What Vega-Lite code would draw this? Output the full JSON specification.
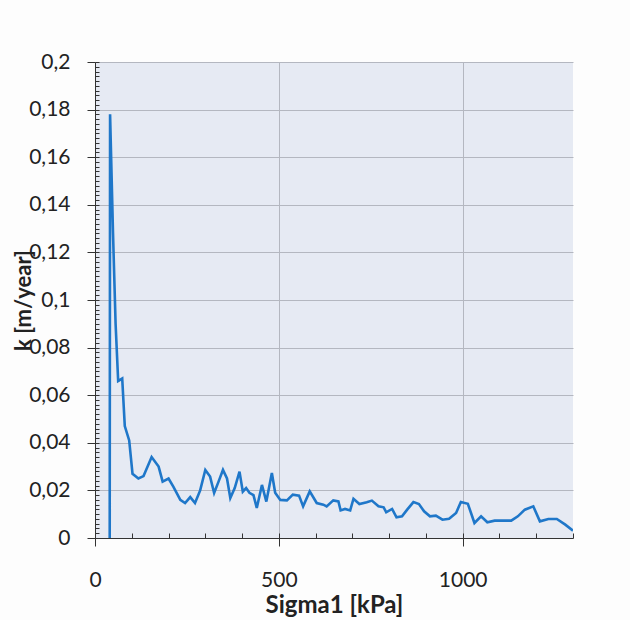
{
  "$schema": "https://vega.github.io/schema/vega-lite/v6.json",
  "width": 478,
  "height": 476,
  "autosize": {"type": "none"},
  "padding": {"left": 95, "top": 62, "right": 57, "bottom": 82},
  "background": "#fdfdfd",
  "config": {
    "view": {"stroke": null, "fill": "#e6eaf3"},
    "font": "Lato",
    "axis": {
      "labelFont": "Lato",
      "titleFont": "Lato",
      "labelColor": "#222222",
      "titleColor": "#222222",
      "domainColor": "#333333",
      "tickColor": "#333333",
      "gridColor": "#b4b7c0",
      "gridWidth": 1
    }
  },
  "data": {
    "values": [
      {"sigma": 40, "k": 0},
      {"sigma": 41, "k": 0.178},
      {"sigma": 49, "k": 0.128},
      {"sigma": 56, "k": 0.09},
      {"sigma": 63, "k": 0.066},
      {"sigma": 74, "k": 0.067},
      {"sigma": 81, "k": 0.047},
      {"sigma": 93, "k": 0.041},
      {"sigma": 102, "k": 0.027},
      {"sigma": 118, "k": 0.025},
      {"sigma": 132, "k": 0.026},
      {"sigma": 154, "k": 0.034},
      {"sigma": 173, "k": 0.03},
      {"sigma": 184, "k": 0.0237},
      {"sigma": 200, "k": 0.025},
      {"sigma": 213, "k": 0.0216},
      {"sigma": 232, "k": 0.016},
      {"sigma": 245, "k": 0.0147},
      {"sigma": 259, "k": 0.0172},
      {"sigma": 272, "k": 0.0147},
      {"sigma": 286, "k": 0.02},
      {"sigma": 300, "k": 0.0286},
      {"sigma": 313, "k": 0.0258},
      {"sigma": 324, "k": 0.0189},
      {"sigma": 336, "k": 0.0237},
      {"sigma": 348, "k": 0.0286},
      {"sigma": 359, "k": 0.025},
      {"sigma": 368, "k": 0.0168},
      {"sigma": 380, "k": 0.021},
      {"sigma": 393, "k": 0.0279},
      {"sigma": 402, "k": 0.0195},
      {"sigma": 411, "k": 0.021},
      {"sigma": 420, "k": 0.019},
      {"sigma": 431, "k": 0.018},
      {"sigma": 440, "k": 0.0126},
      {"sigma": 454, "k": 0.0223},
      {"sigma": 466, "k": 0.0153},
      {"sigma": 481, "k": 0.0273},
      {"sigma": 490, "k": 0.019},
      {"sigma": 504, "k": 0.016},
      {"sigma": 522, "k": 0.0158},
      {"sigma": 538, "k": 0.0182},
      {"sigma": 555, "k": 0.0178},
      {"sigma": 566, "k": 0.0133},
      {"sigma": 584, "k": 0.0196},
      {"sigma": 603, "k": 0.0147},
      {"sigma": 621, "k": 0.014},
      {"sigma": 630, "k": 0.0133},
      {"sigma": 648, "k": 0.0158},
      {"sigma": 662, "k": 0.0154},
      {"sigma": 668, "k": 0.0116},
      {"sigma": 680, "k": 0.0122},
      {"sigma": 694, "k": 0.0116},
      {"sigma": 703, "k": 0.0165},
      {"sigma": 719, "k": 0.0143},
      {"sigma": 739, "k": 0.015},
      {"sigma": 753, "k": 0.0157},
      {"sigma": 771, "k": 0.0133},
      {"sigma": 785, "k": 0.0129},
      {"sigma": 792, "k": 0.0108},
      {"sigma": 808, "k": 0.0122},
      {"sigma": 820, "k": 0.0087},
      {"sigma": 835, "k": 0.0091},
      {"sigma": 849, "k": 0.0119},
      {"sigma": 866, "k": 0.0151},
      {"sigma": 881, "k": 0.0143},
      {"sigma": 895, "k": 0.0112},
      {"sigma": 911, "k": 0.0091},
      {"sigma": 927, "k": 0.0094},
      {"sigma": 945, "k": 0.0077},
      {"sigma": 963, "k": 0.0081},
      {"sigma": 982, "k": 0.0105},
      {"sigma": 995, "k": 0.0151},
      {"sigma": 1014, "k": 0.0144},
      {"sigma": 1032, "k": 0.0063},
      {"sigma": 1050, "k": 0.0091},
      {"sigma": 1067, "k": 0.0066},
      {"sigma": 1087, "k": 0.0073},
      {"sigma": 1132, "k": 0.0073},
      {"sigma": 1150, "k": 0.0091},
      {"sigma": 1169, "k": 0.0119},
      {"sigma": 1192, "k": 0.0133},
      {"sigma": 1210, "k": 0.007},
      {"sigma": 1233, "k": 0.008},
      {"sigma": 1256, "k": 0.008},
      {"sigma": 1279, "k": 0.0056},
      {"sigma": 1300, "k": 0.0031}
    ]
  },
  "resolve": {"axis": {"x": "independent", "y": "independent"}},
  "layer": [
    {
      "mark": {"type": "line", "strokeOpacity": 0},
      "encoding": {
        "x": {
          "field": "sigma",
          "type": "quantitative",
          "scale": {"domain": [0, 1300], "nice": false, "zero": false},
          "axis": {
            "orient": "bottom",
            "title": null,
            "labels": false,
            "domain": false,
            "grid": true,
            "tickSize": 0,
            "values": [500, 1000]
          }
        },
        "y": {
          "field": "k",
          "type": "quantitative",
          "scale": {"domain": [0, 0.2], "nice": false},
          "axis": {
            "orient": "left",
            "title": null,
            "labels": false,
            "domain": false,
            "grid": true,
            "tickSize": 0,
            "values": [0.02, 0.04, 0.06, 0.08, 0.1, 0.12, 0.14, 0.16, 0.18, 0.2]
          }
        }
      }
    },
    {
      "mark": {"type": "line", "strokeOpacity": 0},
      "encoding": {
        "x": {
          "field": "sigma",
          "type": "quantitative",
          "axis": {
            "orient": "bottom",
            "offset": -5,
            "title": null,
            "labels": false,
            "domain": false,
            "grid": false,
            "tickSize": 5,
            "values": [0, 100, 200, 300, 400, 500, 600, 700, 800, 900, 1000, 1100, 1200, 1300]
          }
        },
        "y": {
          "field": "k",
          "type": "quantitative",
          "axis": {
            "orient": "left",
            "offset": -4,
            "title": null,
            "labels": false,
            "domain": false,
            "grid": false,
            "tickSize": 4,
            "values": [0, 0.002, 0.004, 0.006, 0.008, 0.01, 0.012, 0.014, 0.016, 0.018, 0.02, 0.022, 0.024, 0.026, 0.028, 0.03, 0.032, 0.034, 0.036, 0.038, 0.04, 0.042, 0.044, 0.046, 0.048, 0.05, 0.052, 0.054, 0.056, 0.058, 0.06, 0.062, 0.064, 0.066, 0.068, 0.07, 0.072, 0.074, 0.076, 0.078, 0.08, 0.082, 0.084, 0.086, 0.088, 0.09, 0.092, 0.094, 0.096, 0.098, 0.1, 0.102, 0.104, 0.106, 0.108, 0.11, 0.112, 0.114, 0.116, 0.118, 0.12, 0.122, 0.124, 0.126, 0.128, 0.13, 0.132, 0.134, 0.136, 0.138, 0.14, 0.142, 0.144, 0.146, 0.148, 0.15, 0.152, 0.154, 0.156, 0.158, 0.16, 0.162, 0.164, 0.166, 0.168, 0.17, 0.172, 0.174, 0.176, 0.178, 0.18, 0.182, 0.184, 0.186, 0.188, 0.19, 0.192, 0.194, 0.196, 0.198, 0.2]
          }
        }
      }
    },
    {
      "mark": {"type": "line", "color": "#1f77c9", "strokeWidth": 2.6, "clip": true},
      "encoding": {
        "x": {
          "field": "sigma",
          "type": "quantitative",
          "axis": {
            "orient": "bottom",
            "title": "Sigma1 [kPa]",
            "titleFontSize": 24,
            "titleFontWeight": "bold",
            "titleY": 74,
            "titleBaseline": "alphabetic",
            "values": [0, 500, 1000],
            "format": "d",
            "grid": false,
            "labelFontSize": 21,
            "labelPadding": 23,
            "labelFlush": false,
            "tickSize": 8
          }
        },
        "y": {
          "field": "k",
          "type": "quantitative",
          "axis": {
            "orient": "left",
            "title": "k [m/year]",
            "titleFontSize": 22,
            "titleFontWeight": "bold",
            "titleAngle": -90,
            "titleX": -65,
            "titleY": 238,
            "titleAlign": "center",
            "titleBaseline": "alphabetic",
            "values": [0, 0.02, 0.04, 0.06, 0.08, 0.1, 0.12, 0.14, 0.16, 0.18, 0.2],
            "labelExpr": "replace(format(datum.value, '.2~f'), '.', ',')",
            "grid": false,
            "labelFontSize": 21,
            "labelPadding": 17,
            "labelOverlap": false,
            "labelFlush": false,
            "tickSize": 8
          }
        }
      }
    }
  ]
}
